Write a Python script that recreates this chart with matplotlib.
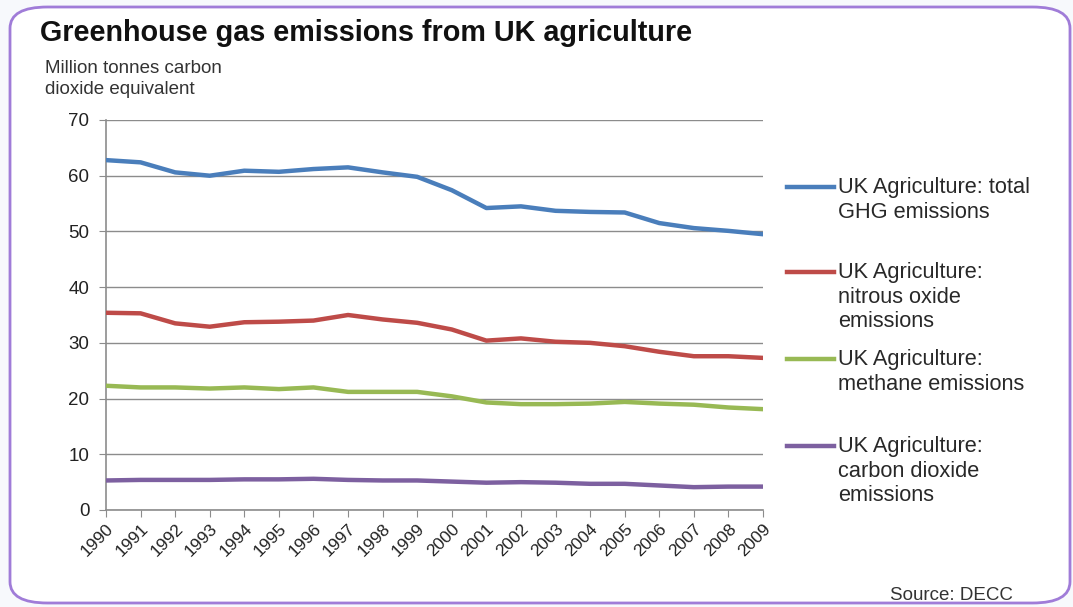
import matplotlib.pyplot as plt
from matplotlib.lines import Line2D
from matplotlib.patches import FancyBboxPatch

plt.rcParams['font.family'] = ['Liberation Sans', 'DejaVu Sans']

# Data (million tonnes CO2 equivalent)
years = list(range(1990, 2010))
total_ghg = [62.8, 62.4, 60.6, 60.0, 60.9, 60.7, 61.2, 61.5, 60.6, 59.8,
             57.4, 54.2, 54.5, 53.7, 53.5, 53.4, 51.5, 50.6, 50.1, 49.5]
nitrous_oxide = [35.4, 35.3, 33.5, 32.9, 33.7, 33.8, 34.0, 35.0, 34.2, 33.6,
                 32.4, 30.4, 30.8, 30.2, 30.0, 29.4, 28.4, 27.6, 27.6, 27.3]
methane = [22.3, 22.0, 22.0, 21.8, 22.0, 21.7, 22.0, 21.2, 21.2, 21.2,
           20.4, 19.3, 19.0, 19.0, 19.1, 19.4, 19.1, 18.9, 18.4, 18.1]
carbon_dioxide = [5.3, 5.4, 5.4, 5.4, 5.5, 5.5, 5.6, 5.4, 5.3, 5.3,
                  5.1, 4.9, 5.0, 4.9, 4.7, 4.7, 4.4, 4.1, 4.2, 4.2]

series = [total_ghg, nitrous_oxide, methane, carbon_dioxide]
labels = ['UK Agriculture: total\nGHG emissions',
          'UK Agriculture:\nnitrous oxide\nemissions',
          'UK Agriculture:\nmethane emissions',
          'UK Agriculture:\ncarbon dioxide\nemissions']
colors = ['#4a7ebb', '#be4b48', '#98b954', '#7d60a0']

fig = plt.figure(figsize=(10.73, 6.07), dpi=100)
fig.patch.set_facecolor('#f7f9fc')

# rounded purple frame
frame = FancyBboxPatch((10 / 1073, 1 - 603 / 607), 1060 / 1073, 596 / 607,
                       boxstyle='round,pad=0,rounding_size=0.035',
                       transform=fig.transFigure, facecolor='white',
                       edgecolor='#a07cd8', linewidth=2, zorder=0)
fig.add_artist(frame)

ax = fig.add_axes([106 / 1073, 1 - 510 / 607, 657 / 1073, 390 / 607])
ax.set_facecolor('none')
x = list(range(len(years)))
for vals, c in zip(series, colors):
    ax.plot(x, vals, color=c, linewidth=3.2, solid_capstyle='round', zorder=3)

ax.set_xlim(0, len(years) - 1)
ax.set_ylim(0, 70)
ax.set_yticks(range(0, 71, 10))
ax.grid(axis='y', color='#8c8c8c', linewidth=1)
ax.set_axisbelow(True)
for side in ['top', 'right']:
    ax.spines[side].set_visible(False)
for side in ['left', 'bottom']:
    ax.spines[side].set_color('#8c8c8c')
    ax.spines[side].set_linewidth(1.2)
ax.tick_params(axis='y', length=5, color='#8c8c8c', labelsize=13.5, pad=7,
               labelcolor='#222222')
ax.tick_params(axis='x', length=5, color='#8c8c8c', labelsize=12.5, pad=3,
               labelcolor='#222222')
ax.set_xticks(x)
ax.set_xticklabels([str(y) for y in years], rotation=45, ha='right',
                   rotation_mode='anchor')

fig.text(40 / 1073, 1 - 33 / 607, 'Greenhouse gas emissions from UK agriculture',
         fontsize=20.7, fontweight='bold', va='center', ha='left', color='#111111')
fig.text(45 / 1073, 1 - 79 / 607, 'Million tonnes carbon\ndioxide equivalent',
         fontsize=13.5, va='center', ha='left', color='#333333', linespacing=1.25)
fig.text(1013 / 1073, 1 - 595 / 607, 'Source: DECC', fontsize=13.5,
         va='center', ha='right', color='#333333')

# legend entries
legend_y = [187, 272, 359, 446]
for lab, c, yy in zip(labels, colors, legend_y):
    yf = 1 - yy / 607
    fig.add_artist(Line2D([787 / 1073, 834 / 1073], [yf, yf], color=c,
                          linewidth=3.2, transform=fig.transFigure))
    fig.text(838 / 1073, yf + 10 / 607, lab, fontsize=15.7, va='top', ha='left',
             color='#282828', linespacing=1.22)

plt.savefig('out.png', dpi=100, facecolor=fig.get_facecolor())
plt.close()
